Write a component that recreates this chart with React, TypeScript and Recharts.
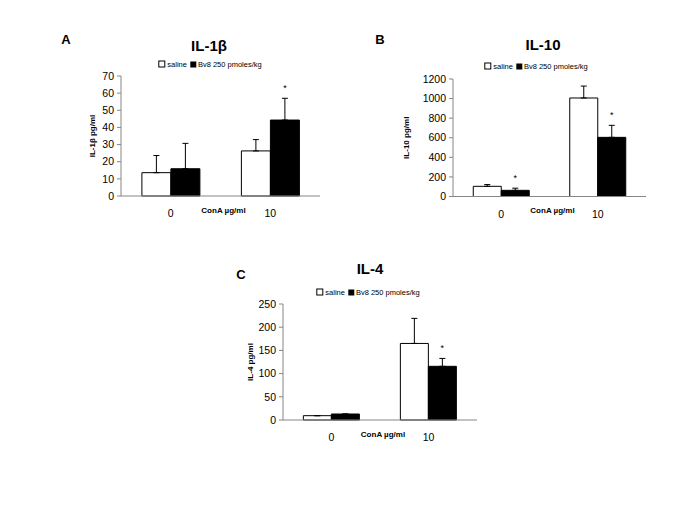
import React from 'react';
import { BarChart, Bar, XAxis, YAxis, ErrorBar, Legend, LabelList } from 'recharts';

// ConA dose categories shared by all three panels
const CATEGORIES = ['0', '10'];

// Panel A: IL-1beta (pg/ml)
const IL1B_SALINE = [13.6, 26.3];
const IL1B_SALINE_ERR = [10, 6.6];
const IL1B_BV8 = [15.9, 44.3];
const IL1B_BV8_ERR = [14.8, 12.7];
const IL1B_SIG = [false, true];
const IL1B_TICKS = [0, 10, 20, 30, 40, 50, 60, 70];

// Panel B: IL-10 (pg/ml)
const IL10_SALINE = [104, 1006];
const IL10_SALINE_ERR = [18, 122];
const IL10_BV8 = [63, 604];
const IL10_BV8_ERR = [22, 123];
const IL10_SIG = [true, true];
const IL10_TICKS = [0, 200, 400, 600, 800, 1000, 1200];

// Panel C: IL-4 (pg/ml)
const IL4_SALINE = [9.3, 165];
const IL4_SALINE_ERR = [0, 54];
const IL4_BV8 = [12.9, 115.7];
const IL4_BV8_ERR = [0, 17];
const IL4_SIG = [false, true];
const IL4_TICKS = [0, 50, 100, 150, 200, 250];

const FONT = '"Liberation Sans", Arial, sans-serif';
const AXIS = '#868686';

const toRows = (saline: number[], salineErr: number[], bv8: number[], bv8Err: number[]) =>
  CATEGORIES.map((cat, i) => ({
    cat,
    saline: saline[i],
    salineErr: [0, salineErr[i]],
    bv8: bv8[i],
    bv8Err: [0, bv8Err[i]],
  }));

// asterisk above the error bar of significant Bv8 bars
const makeStar = (sig: boolean[], values: number[], errs: number[]) => (props: any) => {
  const { x, y, width, height, index } = props;
  if (!sig[index]) return null;
  const perUnit = Number(height) / values[index];
  const top = Number(y) - errs[index] * perUnit;
  return (
    <text x={Number(x) + Number(width) / 2} y={top - 7} textAnchor="middle" fontSize={9} fill="#000">
      *
    </text>
  );
};

const LegendBox = () => (
  <div style={{ display: 'flex', alignItems: 'center', fontSize: 7.5, whiteSpace: 'nowrap', color: '#000' }}>
    <span style={{ width: 5, height: 5, border: '1px solid #000', background: '#fff', marginRight: 2 }} />
    <span style={{ marginRight: 3 }}>saline</span>
    <span style={{ width: 6, height: 6, background: '#000', marginRight: 2 }} />
    <span>Bv8 250 pmoles/kg</span>
  </div>
);

type PanelProps = {
  left: number;
  top: number;
  width: number;
  height: number;
  margin: { top: number; right: number; bottom: number; left: number };
  yWidth: number;
  saline: number[];
  salineErr: number[];
  bv8: number[];
  bv8Err: number[];
  sig: boolean[];
  ticks: number[];
  yLabel: string;
  yLabelOffset: number;
  legendX: number;
  legendY: number;
};

function Panel(p: PanelProps) {
  const data = toRows(p.saline, p.salineErr, p.bv8, p.bv8Err);
  return (
    <div style={{ position: 'absolute', left: p.left, top: p.top }}>
      <BarChart
        width={p.width}
        height={p.height}
        data={data}
        margin={p.margin}
        barCategoryGap="21%"
        barGap={0}
      >
        <XAxis
          dataKey="cat"
          height={30}
          tickLine={false}
          tickMargin={8}
          stroke={AXIS}
          tick={{ fill: '#000', fontSize: 10.5 }}
          label={{ value: 'ConA \u00b5g/ml', position: 'center', dx: 3, dy: -1, style: { fontWeight: 'bold', fontSize: 8, fill: '#000' } }}
        />
        <YAxis
          width={p.yWidth}
          domain={[0, p.ticks[p.ticks.length - 1]]}
          ticks={p.ticks}
          interval={0}
          tickSize={4}
          tickMargin={3}
          stroke={AXIS}
          tick={{ fill: '#000', fontSize: 10.5 }}
          label={{
            value: p.yLabel,
            angle: -90,
            position: 'insideLeft',
            offset: p.yLabelOffset,
            style: { textAnchor: 'middle', fontWeight: 'bold', fontSize: 8, fill: '#000' },
          }}
        />
        <Legend
          verticalAlign="middle"
          align="center"
          layout="horizontal"
          content={() => <LegendBox />}
          wrapperStyle={{ left: p.legendX, top: p.legendY, width: 'auto', transform: 'translate(-50%, -50%)' }}
        />
        <Bar dataKey="saline" fill="#fff" stroke="#000" strokeWidth={1} isAnimationActive={false}>
          <ErrorBar dataKey="salineErr" width={3} stroke="#000" strokeWidth={1} direction="y" />
        </Bar>
        <Bar dataKey="bv8" fill="#000" stroke="#000" strokeWidth={1} isAnimationActive={false}>
          <ErrorBar dataKey="bv8Err" width={3} stroke="#000" strokeWidth={1} direction="y" />
          <LabelList dataKey="bv8" content={makeStar(p.sig, p.bv8, p.bv8Err)} />
        </Bar>
      </BarChart>
    </div>
  );
}

const Caption = ({ x, y, size, children }: { x: number; y: number; size: number; children: React.ReactNode }) => (
  <div
    style={{
      position: 'absolute',
      left: x,
      top: y,
      transform: 'translate(-50%, -50%)',
      fontWeight: 'bold',
      fontSize: size,
      lineHeight: 1,
      whiteSpace: 'nowrap',
    }}
  >
    {children}
  </div>
);

export default function App() {
  return (
    <div
      style={{
        position: 'absolute',
        left: 0,
        top: 0,
        width: 685,
        height: 513,
        background: '#fff',
        fontFamily: FONT,
        color: '#000',
      }}
    >
      <Caption x={66} y={39} size={13}>A</Caption>
      <Caption x={209} y={45} size={15}>IL-1&beta;</Caption>
      <Caption x={380} y={39} size={13}>B</Caption>
      <Caption x={543} y={44} size={15}>IL-10</Caption>
      <Caption x={241} y={274} size={13}>C</Caption>
      <Caption x={370} y={268} size={15}>IL-4</Caption>

      <Panel
        left={60}
        top={55}
        width={270}
        height={175}
        margin={{ top: 21, right: 10, bottom: 4, left: 0 }}
        yWidth={61}
        saline={IL1B_SALINE}
        salineErr={IL1B_SALINE_ERR}
        bv8={IL1B_BV8}
        bv8Err={IL1B_BV8_ERR}
        sig={IL1B_SIG}
        ticks={IL1B_TICKS}
        yLabel={'IL-1\u03b2 pg/ml'}
        yLabelOffset={32}
        legendX={150}
        legendY={9}
      />
      <Panel
        left={380}
        top={55}
        width={280}
        height={175}
        margin={{ top: 24, right: 14, bottom: 3.5, left: 0 }}
        yWidth={73}
        saline={IL10_SALINE}
        salineErr={IL10_SALINE_ERR}
        bv8={IL10_BV8}
        bv8Err={IL10_BV8_ERR}
        sig={IL10_SIG}
        ticks={IL10_TICKS}
        yLabel="IL-10 pg/ml"
        yLabelOffset={26}
        legendX={156}
        legendY={11}
      />
      <Panel
        left={220}
        top={280}
        width={270}
        height={175}
        margin={{ top: 24, right: 13, bottom: 5, left: 0 }}
        yWidth={63}
        saline={IL4_SALINE}
        salineErr={IL4_SALINE_ERR}
        bv8={IL4_BV8}
        bv8Err={IL4_BV8_ERR}
        sig={IL4_SIG}
        ticks={IL4_TICKS}
        yLabel="IL-4 pg/ml"
        yLabelOffset={30}
        legendX={148}
        legendY={12}
      />
    </div>
  );
}
